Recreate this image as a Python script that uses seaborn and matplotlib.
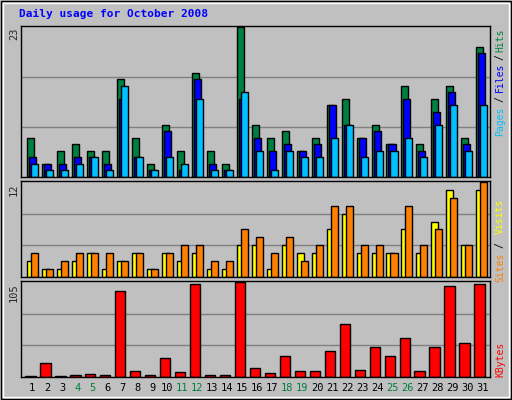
import matplotlib
matplotlib.use("Agg")
import matplotlib.pyplot as plt
import seaborn as sns
import numpy as np
import pandas as pd
from matplotlib.patches import Rectangle

days = list(range(1, 32))
hits = [6,2,4,5,4,4,15,6,2,8,4,16,4,2,23,8,6,7,4,6,11,12,6,8,5,14,5,12,14,6,20]
files = [3,2,2,3,3,2,12,3,1,7,1,15,2,1,12,6,4,5,4,5,11,8,6,7,5,12,4,10,13,5,19]
pages = [2,1,1,2,3,1,14,3,1,3,2,12,1,1,13,4,1,4,3,3,6,8,3,4,4,6,3,8,11,4,11]
sites = [2,1,1,2,3,1,2,3,1,3,2,3,1,1,4,4,1,4,3,3,6,8,3,3,3,6,3,7,11,4,11]
visits = [3,1,2,3,3,3,2,3,1,3,4,4,2,2,6,5,3,5,2,4,9,9,4,4,3,9,4,6,10,4,12]
kbytes = [1.5,15,1.5,2.7,3.8,2.7,95,7,2.7,21,5,103,2.7,2.7,105,10,4,23,7,7,29,58,8,33,23,43,7,33,100,38,103]
weekend = [4,5,11,12,18,19,25,26]
max_labels = ["23", "12", "105"]

sns.set_style("white")
plt.rcParams['font.family'] = ['DejaVu Sans Mono']
BG = "#C0C0C0"
fig = plt.figure(figsize=(5.12, 4.0), dpi=100, facecolor=BG)
W, H = 512, 400
def rect(l, t, w, h):
    return [l / W, 1 - (t + h) / H, w / W, h / H]

fig.patches.append(Rectangle((1/W, 1/H), 510/W, 398/H, transform=fig.transFigure,
                             fill=False, ec="black", lw=1))
fig.patches.append(Rectangle((3/W, 3/H), 506/W, 394/H, transform=fig.transFigure,
                             fill=False, ec="white", lw=1))
fig.text(19/W, 1 - 14/H, "Daily usage for October 2008", color="#0000FF",
         fontsize=8, fontweight="bold", va="center", ha="left")

XL = (0.25, 31.58)
def style(ax, ymax):
    ax.set_facecolor(BG)
    ax.set_xlim(*XL)
    ax.set_ylim(0, ymax * 1.01)
    for g in (ymax / 3, ymax * 2 / 3):
        ax.axhline(g, color="#808080", lw=1, zorder=0)
    ax.set_xticks([]); ax.set_yticks([])
    ax.set_xlabel(""); ax.set_ylabel("")
    for s in ax.spines.values():
        s.set_color("black"); s.set_linewidth(1)

def bars(ax, off, vals, color, width):
    df = pd.DataFrame({"x": np.array(days) + off, "y": vals})
    sns.barplot(data=df, x="x", y="y", native_scale=True, width=width,
                color=color, saturation=1, edgecolor="black", linewidth=1, ax=ax)

ax1 = fig.add_axes(rect(21, 26, 469, 151))
bars(ax1, -0.10, hits, "#008040", 0.47)
bars(ax1, 0.033, files, "#0000FF", 0.47)
bars(ax1, 0.167, pages, "#00C0FF", 0.47)
style(ax1, 23)

ax2 = fig.add_axes(rect(21, 181, 469, 96))
bars(ax2, -0.10, sites, "#FFFF00", 0.47)
bars(ax2, 0.167, visits, "#FF8000", 0.47)
style(ax2, 12)

ax3 = fig.add_axes(rect(21, 281, 469, 96))
bars(ax3, -0.12, kbytes, "#FF0000", 0.69)
style(ax3, 105)

for d in days:
    fig.text((21 + (d - XL[0]) * 15) / W, 1 - 388 / H, str(d), ha="center", va="center",
             fontsize=7.5, color="#008040" if d in weekend else "black")

for t, lab in zip((26, 181, 281), max_labels):
    fig.text(14 / W, 1 - (t + 2) / H, lab, rotation=90, ha="center", va="top", fontsize=7.5)

def rlab(txt, color, yc):
    fig.text(500 / W, 1 - yc / H, txt, rotation=90, ha="center", va="center",
             fontsize=7, color=color)
rlab("Hits", "#008040", 40)
rlab("/", "black", 57)
rlab("Files", "#0000FF", 77)
rlab("/", "black", 99)
rlab("Pages", "#00C0FF", 121)
rlab("Visits", "#FFFF00", 216)
rlab("/", "black", 245)
rlab("Sites", "#FF8000", 267)
rlab("KBytes", "#FF0000", 359)

fig.savefig("out.png", dpi=100, facecolor=BG)
